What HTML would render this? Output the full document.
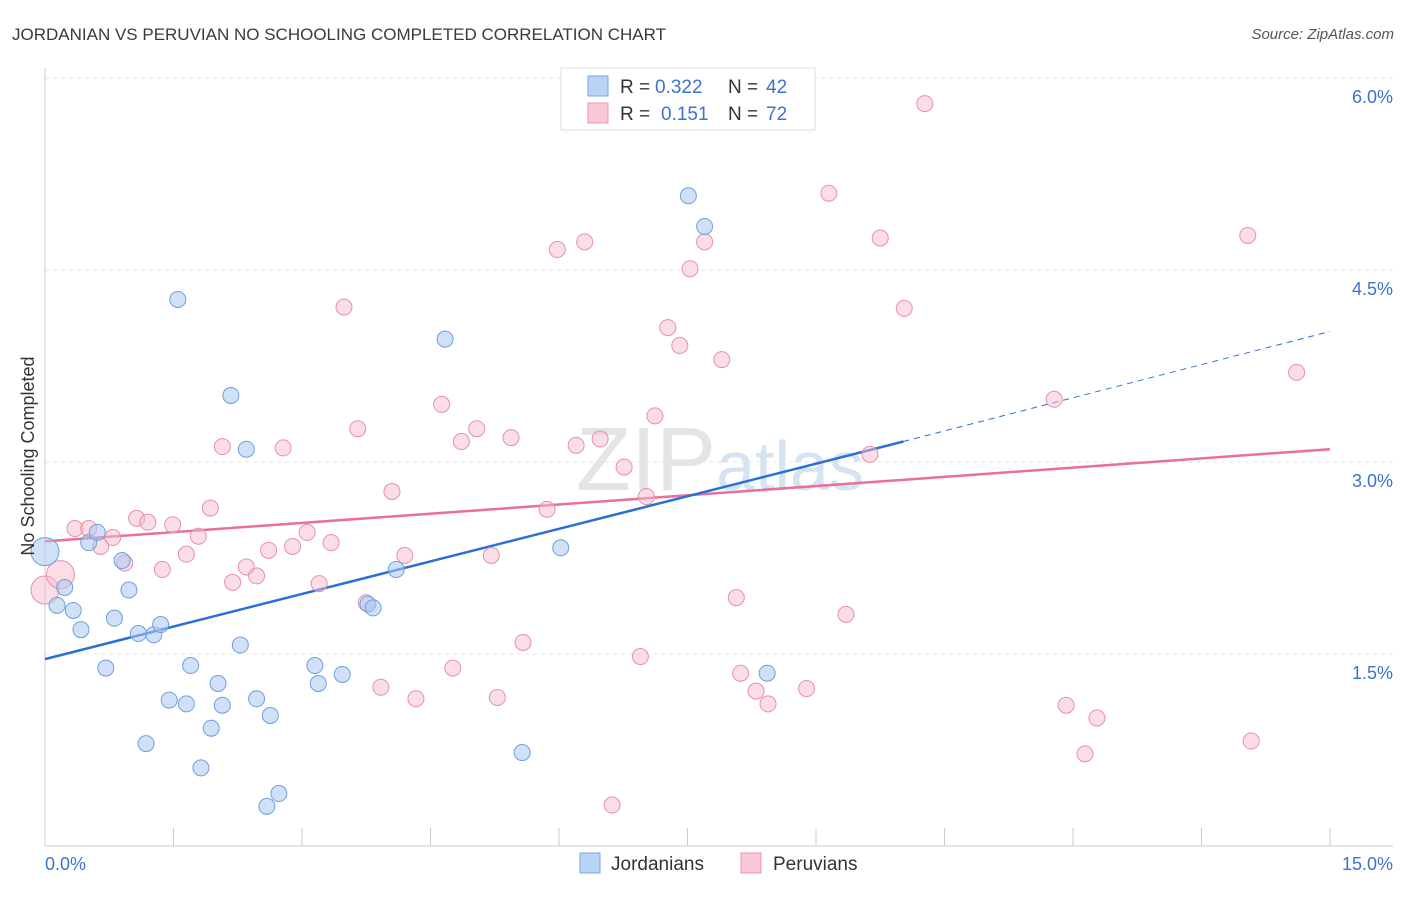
<!DOCTYPE html>
<html><head><meta charset="utf-8"><style>
body{margin:0;background:#fff;font-family:"Liberation Sans",sans-serif}
svg text{font-family:"Liberation Sans",sans-serif}
</style></head><body>
<svg id="chart" width="1406" height="892" xmlns="http://www.w3.org/2000/svg">
<text x="12" y="40" font-size="17" fill="#3a3a3a">JORDANIAN VS PERUVIAN NO SCHOOLING COMPLETED CORRELATION CHART</text>
<text x="1394" y="39" font-size="15" fill="#555" text-anchor="end" font-style="italic">Source: ZipAtlas.com</text>
<text x="720" y="490" font-size="90" fill="#e4e4e4" text-anchor="middle" font-family="Liberation Serif">ZIP<tspan fill="#d6e3f3" font-family="Liberation Sans" font-size="70">atlas</tspan></text>
<g id="grid"></g><g id="axes"></g><g id="lines"></g><g id="points"></g>
<text transform="translate(34,456) rotate(-90)" font-size="18" fill="#333" text-anchor="middle">No Schooling Completed</text>
<g>
<rect x="561" y="68" width="254" height="62" fill="#fff" stroke="#ddd"/>
<rect x="588" y="76" width="20" height="20" fill="#b8d3f5" stroke="#7aa6e0"/>
<text x="620" y="93" font-size="19" fill="#333">R =</text>
<text x="655" y="93" font-size="19" fill="#3b73d1">0.322</text>
<text x="728" y="93" font-size="19" fill="#333">N =</text>
<text x="766" y="93" font-size="19" fill="#3b73d1">42</text>
<rect x="588" y="103" width="20" height="20" fill="#f9c8d7" stroke="#ea97b1"/>
<text x="620" y="120" font-size="19" fill="#333">R =</text>
<text x="661" y="120" font-size="19" fill="#3b73d1">0.151</text>
<text x="728" y="120" font-size="19" fill="#333">N =</text>
<text x="766" y="120" font-size="19" fill="#3b73d1">72</text>
</g>
<g>
<rect x="580" y="853" width="20" height="20" fill="#b8d3f5" stroke="#7aa6e0"/>
<text x="611" y="870" font-size="19" fill="#333">Jordanians</text>
<rect x="741" y="853" width="20" height="20" fill="#f9c8d7" stroke="#ea97b1"/>
<text x="773" y="870" font-size="19" fill="#333">Peruvians</text>
</g>
</svg>
<script>
const yTicks=[1.5,3.0,4.5,6.0];
const yTickLabels=["1.5%","3.0%","4.5%","6.0%"];
const xTicks=[0,1.5,3,4.5,6,7.5,9,10.5,12,13.5,15];
const jorX=[0,0.14,0.23,0.33,0.42,0.51,0.61,0.71,0.81,0.90,0.98,1.09,1.18,1.27,1.35,1.45,1.55,1.65,1.70,1.82,1.94,2.02,2.07,2.17,2.28,2.35,2.47,2.59,2.63,2.73,3.15,3.19,3.47,3.77,3.83,4.10,4.67,5.57,6.02,7.51,7.70,8.43];
const jorY=[2.30,1.88,2.02,1.84,1.69,2.37,2.45,1.39,1.78,2.23,2.00,1.66,0.80,1.65,1.73,1.14,4.27,1.11,1.41,0.61,0.92,1.27,1.10,3.52,1.57,3.10,1.15,0.31,1.02,0.41,1.41,1.27,1.34,1.89,1.86,2.16,3.96,0.73,2.33,5.08,4.84,1.35];
const perX=[0,0.18,0.35,0.51,0.65,0.79,0.93,1.07,1.20,1.37,1.49,1.65,1.79,1.93,2.07,2.19,2.35,2.47,2.61,2.78,2.89,3.06,3.20,3.34,3.49,3.65,3.75,3.92,4.05,4.20,4.33,4.63,4.76,4.86,5.04,5.21,5.28,5.44,5.58,5.86,5.98,6.20,6.30,6.48,6.62,6.76,6.95,7.02,7.12,7.27,7.41,7.53,7.70,7.90,8.07,8.12,8.30,8.44,8.89,9.15,9.35,9.63,9.75,10.03,10.27,11.78,11.92,12.14,12.28,14.04,14.08,14.61];
const perY=[2.00,2.12,2.48,2.48,2.34,2.41,2.21,2.56,2.53,2.16,2.51,2.28,2.42,2.64,3.12,2.06,2.18,2.11,2.31,3.11,2.34,2.45,2.05,2.37,4.21,3.26,1.90,1.24,2.77,2.27,1.15,3.45,1.39,3.16,3.26,2.27,1.16,3.19,1.59,2.63,4.66,3.13,4.72,3.18,0.32,2.96,1.48,2.73,3.36,4.05,3.91,4.51,4.72,3.80,1.94,1.35,1.21,1.11,1.23,5.10,1.81,3.06,4.75,4.20,5.80,3.49,1.10,0.72,1.00,4.77,0.82,3.70];
const jorTrendX=[0,10.02,15];
const jorTrend=[1.46,3.16,4.02];
const perTrendX=[0,15];
const perTrend=[2.38,3.10];
const NS="http://www.w3.org/2000/svg";
const X=v=>45+v*1285/15, Y=v=>846-v*128;
function mk(t,a,p){const e=document.createElementNS(NS,t);for(const k in a)e.setAttribute(k,a[k]);document.getElementById(p).appendChild(e);return e;}
yTicks.forEach((v,i)=>{
 const l=mk('line',{x1:45,x2:1393,y1:Y(v),y2:Y(v),stroke:'#e6e6e6','stroke-dasharray':'4,4'},'grid');
 
 
 const t=mk('text',{x:1393,y:Y(v)+25,'font-size':18,fill:'#3b73d1','text-anchor':'end'},'grid');t.textContent=yTickLabels[i];
 
 
});
let a=mk('line',{x1:45,x2:45,y1:68,y2:846,stroke:'#ccc'},'axes');


a=mk('line',{x1:45,x2:1393,y1:846,y2:846,stroke:'#ccc'},'axes');


xTicks.forEach(v=>{const l=mk('line',{x1:X(v),x2:X(v),y1:828,y2:846,stroke:'#ccc'},'axes');
 
 });
let t=mk('text',{x:45,y:870,'font-size':18,fill:'#3b73d1'},'axes');t.textContent='0.0%';


t=mk('text',{x:1393,y:870,'font-size':18,fill:'#3b73d1','text-anchor':'end'},'axes');t.textContent='15.0%';


perX.forEach((v,i)=>{const c=mk('circle',{cx:X(v),cy:Y(perY[i]),r:i<2?14:8,fill:'#f7bccd','fill-opacity':0.5,stroke:'#e890ab','stroke-width':1},'points');
 
 });
jorX.forEach((v,i)=>{const c=mk('circle',{cx:X(v),cy:Y(jorY[i]),r:i<1?14:8,fill:'#a9c8f0','fill-opacity':0.55,stroke:'#6f9fdc','stroke-width':1},'points');
 
 });
let l=mk('line',{x1:X(perTrendX[0]),y1:Y(perTrend[0]),x2:X(perTrendX[1]),y2:Y(perTrend[1]),stroke:'#e8709a','stroke-width':2.5},'lines');


l=mk('line',{x1:X(jorTrendX[0]),y1:Y(jorTrend[0]),x2:X(jorTrendX[1]),y2:Y(jorTrend[1]),stroke:'#2a6fd6','stroke-width':2.5},'lines');


l=mk('line',{x1:X(jorTrendX[1]),y1:Y(jorTrend[1]),x2:X(jorTrendX[2]),y2:Y(jorTrend[2]),stroke:'#2a6fd6','stroke-width':1,'stroke-dasharray':'6,5'},'lines');


</script>
</body></html>
